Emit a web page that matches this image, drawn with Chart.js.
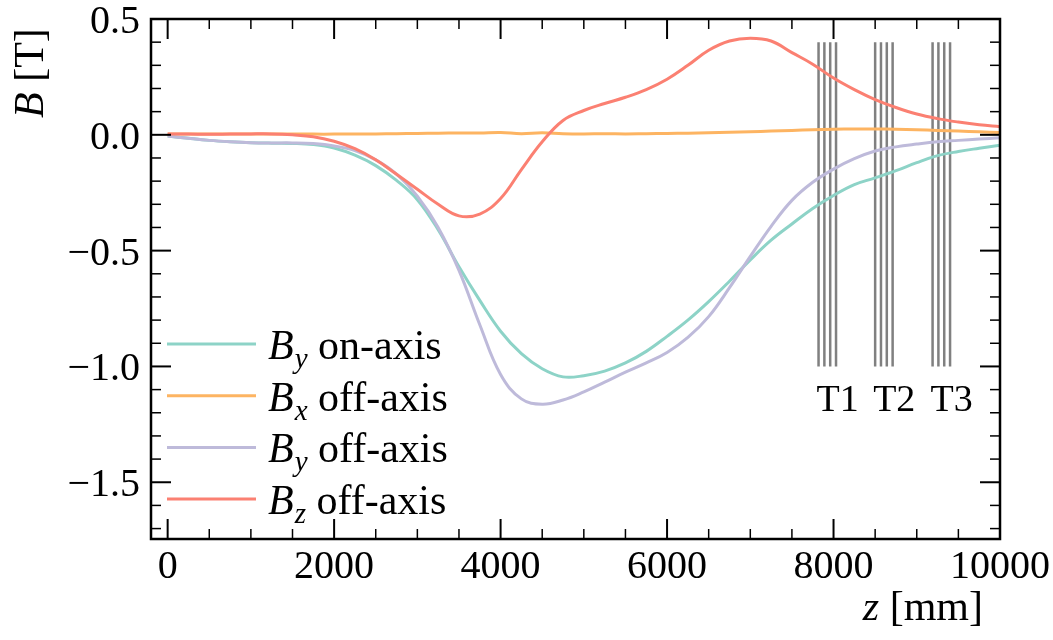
<!DOCTYPE html>
<html>
<head>
<meta charset="utf-8">
<script src="https://cdn.jsdelivr.net/npm/chart.js@4"></script>
<style>
    html, body { margin: 0; padding: 0; background: #fff; }
</style>
</head>
<body>
<canvas id="field-chart" width="1053" height="640"></canvas>
<script>
// z positions along the beam line [mm]
const zValues = [0, 250, 500, 750, 1000, 1250, 1500, 1750, 2000, 2250, 2500, 2750, 3000, 3250, 3500, 3750,
    4000, 4250, 4500, 4750, 5000, 5250, 5500, 5750, 6000, 6250, 6500, 6750, 7000, 7250, 7500, 7750,
    8000, 8250, 8500, 8750, 9000, 9250, 9500, 9750, 10000];

// field components [T]
const byOnAxis = [-0.005, -0.015, -0.024, -0.030, -0.034, -0.036, -0.037, -0.042, -0.057, -0.088, -0.133, -0.197,
    -0.280, -0.410, -0.570, -0.715, -0.848, -0.945, -1.010, -1.045, -1.040, -1.020, -0.985, -0.935,
    -0.870, -0.800, -0.720, -0.632, -0.540, -0.455, -0.385, -0.318, -0.262, -0.215, -0.186, -0.155,
    -0.120, -0.090, -0.072, -0.058, -0.045];
const bxOffAxis = [0.003, 0.003, 0.003, 0.003, 0.003, 0.003, 0.003, 0.003, 0.003, 0.004, 0.004, 0.005,
    0.006, 0.007, 0.008, 0.008, 0.010, 0.005, 0.009, 0.005, 0.004, 0.005, 0.004, 0.005,
    0.006, 0.007, 0.009, 0.011, 0.013, 0.016, 0.019, 0.022, 0.024, 0.025, 0.025, 0.024,
    0.022, 0.019, 0.016, 0.013, 0.010];
const byOffAxis = [-0.005, -0.015, -0.024, -0.030, -0.034, -0.035, -0.035, -0.038, -0.048, -0.068, -0.108, -0.170,
    -0.265, -0.400, -0.585, -0.820, -1.035, -1.140, -1.163, -1.145, -1.110, -1.068, -1.025, -0.985,
    -0.940, -0.875, -0.785, -0.660, -0.525, -0.395, -0.283, -0.205, -0.148, -0.103, -0.070, -0.052,
    -0.040, -0.030, -0.024, -0.018, -0.013];
const bzOffAxis = [0.003, 0.003, 0.002, 0.003, 0.004, 0.004, 0.000, -0.008, -0.028, -0.060, -0.108, -0.170,
    -0.235, -0.300, -0.350, -0.342, -0.275, -0.150, -0.030, 0.062, 0.105, 0.135, 0.162, 0.195,
    0.240, 0.300, 0.365, 0.405, 0.417, 0.405, 0.355, 0.305, 0.245, 0.195, 0.152, 0.118,
    0.090, 0.070, 0.055, 0.043, 0.035];

// tracking stations (4 layers each) and their extent
const stationNames = ['T1', 'T2', 'T3'];
const stationLayers = [
    [7820, 7890, 7960, 8030],
    [8500, 8570, 8640, 8710],
    [9190, 9260, 9330, 9400]
];
const stationTop = 0.4;
const stationBottom = -1.0;

// legend text
const legendSubs = ['y', 'x', 'y', 'z'];
const legendTexts = ['on-axis', 'off-axis', 'off-axis', 'off-axis'];

// axis ticks
const xTicks = [0, 2000, 4000, 6000, 8000, 10000];
const yTicks = [-1.5, -1.0, -0.5, 0.0, 0.5];

const serif = '"Liberation Serif", "DejaVu Serif", serif';
const colors = ['#8dd3c7', '#fdb462', '#bebada', '#fb8072'];

function pts(ys) {
    return zValues.map((z, i) => ({ x: z, y: ys[i] }));
}

const curveSets = [byOnAxis, bxOffAxis, byOffAxis, bzOffAxis].map((ys, i) => ({
    data: pts(ys),
    borderColor: colors[i],
    borderWidth: 3,
    pointRadius: 0,
    tension: 0.4,
    order: 4 - i
}));

const stationSets = [];
stationLayers.forEach(layers => {
    layers.forEach(z => {
        stationSets.push({
            data: [{ x: z, y: stationTop }, { x: z, y: stationBottom }],
            borderColor: '#808080',
            borderWidth: 2.5,
            pointRadius: 0,
            order: 10
        });
    });
});

// inward ticks on all four sides, frame and tick labels
const framePlugin = {
    id: 'frame',
    afterDatasetsDraw(chart) {
        const { ctx, chartArea: a, scales: { x, y } } = chart;
        ctx.save();
        ctx.strokeStyle = '#000';
        function seg(x1, y1, x2, y2, w) {
            ctx.lineWidth = w;
            ctx.beginPath();
            ctx.moveTo(x1, y1);
            ctx.lineTo(x2, y2);
            ctx.stroke();
        }
        for (let v = 0; v <= 10000; v += 500) {
            const px = x.getPixelForValue(v);
            const major = v % 2000 === 0;
            const len = major ? 20 : 10;
            const w = major ? 2 : 1.5;
            seg(px, a.bottom, px, a.bottom - len, w);
            seg(px, a.top, px, a.top + len, w);
        }
        for (let k = -17; k <= 5; k++) {
            const py = y.getPixelForValue(k / 10);
            const major = k % 5 === 0;
            const len = major ? 20 : 10;
            const w = major ? 2 : 1.5;
            seg(a.left, py, a.left + len, py, w);
            seg(a.right, py, a.right - len, py, w);
        }
        ctx.lineWidth = 2.5;
        ctx.strokeRect(a.left, a.top, a.width, a.height);

        ctx.fillStyle = '#000';
        ctx.font = '40px ' + serif;
        ctx.textBaseline = 'alphabetic';
        ctx.textAlign = 'center';
        xTicks.forEach(v => {
            ctx.fillText(String(v), x.getPixelForValue(v), a.bottom + 39);
        });
        ctx.textAlign = 'right';
        yTicks.forEach(v => {
            ctx.fillText(v.toFixed(1).replace('-', '\u2212'), a.left - 11, y.getPixelForValue(v) + 14);
        });
        ctx.restore();
    }
};

// legend, station labels and axis titles with math-style text
const textPlugin = {
    id: 'mathText',
    afterDraw(chart) {
        const { ctx, chartArea: a, scales: { x, y } } = chart;
        ctx.save();
        ctx.fillStyle = '#000';
        ctx.textBaseline = 'alphabetic';
        ctx.textAlign = 'left';

        // legend
        legendSubs.forEach((sub, i) => {
            const ly = a.bottom - 195 + i * 51.7;
            ctx.strokeStyle = colors[i];
            ctx.lineWidth = 3;
            ctx.beginPath();
            ctx.moveTo(a.left + 16, ly);
            ctx.lineTo(a.left + 105, ly);
            ctx.stroke();
            let tx = a.left + 117;
            ctx.font = 'italic 42px ' + serif;
            ctx.fillText('B', tx, ly + 15);
            tx += ctx.measureText('B').width + 1;
            ctx.font = 'italic 29px ' + serif;
            ctx.fillText(sub, tx, ly + 24);
            tx += ctx.measureText(sub).width;
            ctx.font = '42px ' + serif;
            ctx.fillText(' ' + legendTexts[i], tx, ly + 15);
        });

        // station labels
        ctx.font = '38px ' + serif;
        stationNames.forEach((name, i) => {
            const px = x.getPixelForValue(stationLayers[i][0]) - 2;
            ctx.fillText(name, px, y.getPixelForValue(stationBottom) + 45);
        });

        // x title
        ctx.textAlign = 'right';
        ctx.font = '42px ' + serif;
        const mmText = ' [mm]';
        const mmW = ctx.measureText(mmText).width;
        ctx.fillText(mmText, a.right - 17, 620);
        ctx.font = 'italic 42px ' + serif;
        ctx.fillText('z', a.right - 17 - mmW, 620);

        // y title, rotated
        ctx.translate(43, 118);
        ctx.rotate(-Math.PI / 2);
        ctx.textAlign = 'left';
        ctx.font = 'italic 42px ' + serif;
        ctx.fillText('B', 0, 0);
        const bW = ctx.measureText('B').width;
        ctx.font = '42px ' + serif;
        ctx.fillText(' [T]', bW, 0);
        ctx.restore();
    }
};

const chart = new Chart(document.getElementById('field-chart').getContext('2d'), {
    type: 'line',
    data: { datasets: curveSets.concat(stationSets) },
    options: {
        responsive: false,
        animation: false,
        events: [],
        layout: { padding: { left: 0, right: 53, top: 19, bottom: 0 } },
        plugins: { legend: { display: false }, tooltip: { enabled: false } },
        scales: {
            x: {
                type: 'linear',
                min: -200,
                max: 10000,
                grid: { display: false },
                border: { display: false },
                ticks: { display: false },
                afterFit: s => { s.height = 101; }
            },
            y: {
                type: 'linear',
                min: -1.745,
                max: 0.5,
                grid: { display: false },
                border: { display: false },
                ticks: { display: false },
                afterFit: s => { s.width = 151; }
            }
        }
    },
    plugins: [framePlugin, textPlugin]
});
</script>
</body>
</html>
